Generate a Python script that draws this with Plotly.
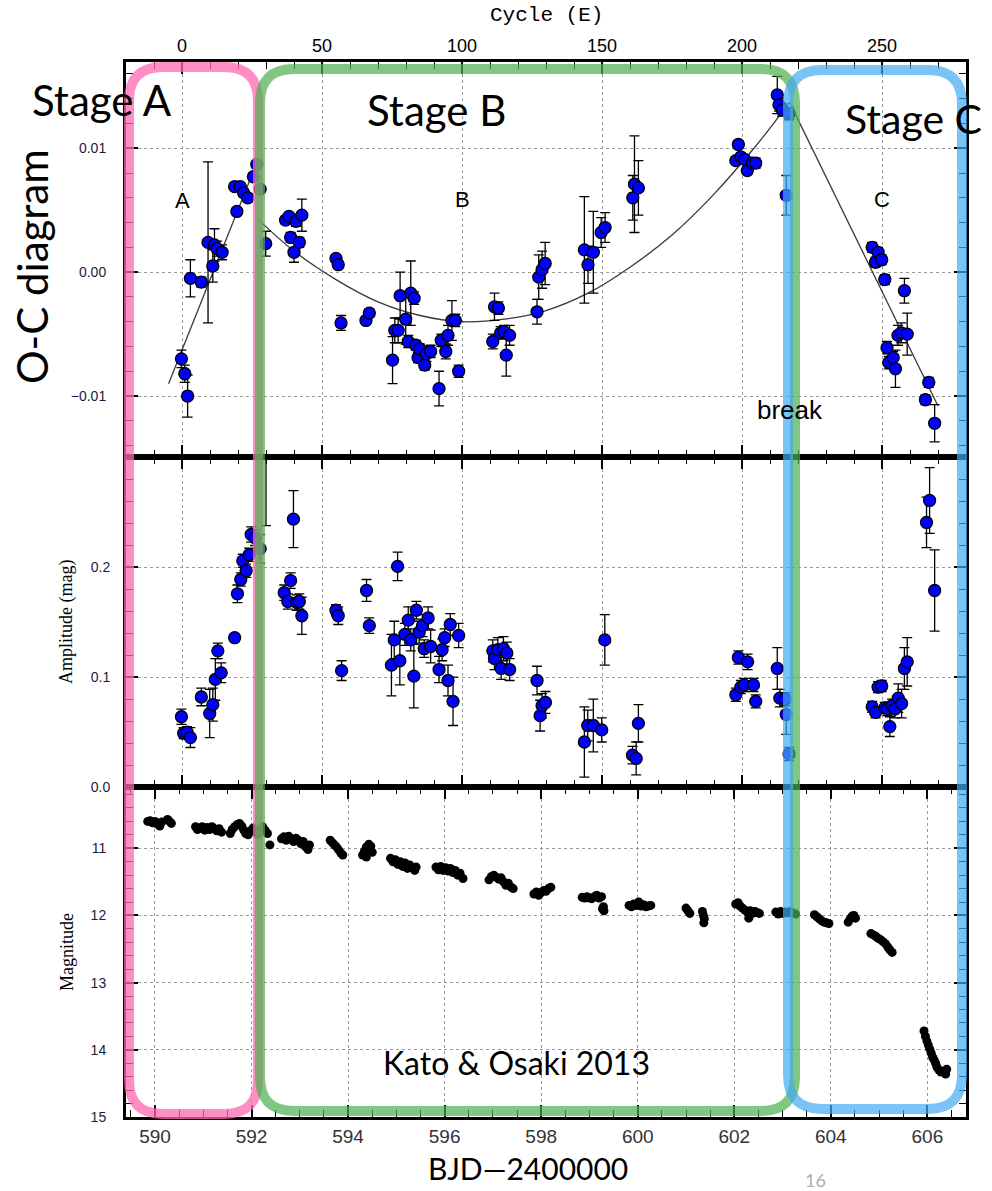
import plotly.graph_objects as go

# ---------------- data ----------------
oc_cycle = [-0.2, 1.0, 2.0, 3.0, 6.9, 9.3, 11.0, 11.6, 12.5, 14.3, 18.8, 19.6, 20.8, 22.0, 23.5, 25.5, 26.7, 27.9, 29.9,
            37.0, 38.2, 38.8, 40.0, 40.7, 41.9, 42.8, 55.0, 55.8, 56.8, 65.7, 66.9, 75.2, 76.0, 77.2, 77.9, 79.9, 80.8,
            81.7, 82.9, 83.5, 84.3, 84.9, 86.7, 87.3, 88.8, 91.8, 92.6, 94.2, 95.0, 96.4, 97.6, 98.8, 111.0, 111.6,
            113.0, 113.8, 115.0, 115.8, 117.0, 126.8, 127.4, 128.6, 129.7, 143.7, 145.0, 146.9, 149.7, 151.1, 161.0,
            161.6, 163.0, 197.8, 198.7, 199.6, 201.0, 201.9, 203.7, 204.9, 212.6, 213.2, 214.4, 215.8, 216.8,
            246.5, 247.7, 248.6, 249.9, 251.0, 251.8, 252.4, 254.0, 254.8, 255.7, 256.9, 258.0, 259.0, 265.5, 266.7, 268.8]
oc_value = [-0.0070, -0.0082, -0.0100, -0.0005, -0.0008, 0.0024, 0.0005, 0.0022, 0.0019, 0.0016, 0.0069, 0.0049, 0.0069,
            0.0064, 0.0060, 0.0077, 0.0087, 0.0067, 0.0023,
            0.0042, 0.0045, 0.0028, 0.0016, 0.0041, 0.0024, 0.0046, 0.0011, 0.0006, -0.0041, -0.0039, -0.0033, -0.0071,
            -0.0047, -0.0047, -0.0019, -0.0038, -0.0056, -0.0017, -0.0021, -0.0059, -0.0069, -0.0062, -0.0075, -0.0066,
            -0.0064, -0.0094, -0.0055, -0.0064, -0.0051, -0.0039, -0.0039, -0.0080, -0.0056, -0.0028, -0.0029, -0.0049,
            -0.0048, -0.0067, -0.0051, -0.0032, -0.0004, 0.0002, 0.0007, 0.0018, 0.0006, 0.0016, 0.0032, 0.0036, 0.0060,
            0.0071, 0.0068, 0.0090, 0.0103, 0.0093, 0.0091, 0.0082, 0.0088, 0.0088, 0.0143, 0.0135, 0.0131, 0.0062,
            0.0128,
            0.0020, 0.0008, 0.0016, 0.0010, -0.0006, -0.0061, -0.0073, -0.0069, -0.0078, -0.0051, -0.0049, -0.0015,
            -0.0050, -0.0103, -0.0089, -0.0122]
oc_error = [0.0007, 0.0007, 0.0017, 0.0015, 0.0004, 0.0065, 0.0013, 0.0013, 0.0006, 0.0006, 0.0003, 0.0003, 0.0003,
            0.0003, 0.0003, 0.0003, 0.0003, 0.0003, 0.0010,
            0.0003, 0.0003, 0.0004, 0.0008, 0.0004, 0.0004, 0.0013, 0.0003, 0.0003, 0.0006, 0.0003, 0.0003, 0.0019,
            0.0010, 0.0010, 0.0019, 0.0020, 0.0005, 0.0026, 0.0005, 0.0004, 0.0004, 0.0004, 0.0004, 0.0006, 0.0005,
            0.0014, 0.0005, 0.0006, 0.0008, 0.0016, 0.0005, 0.0005, 0.0006, 0.0011, 0.0005, 0.0005, 0.0005, 0.0017,
            0.0008, 0.0010, 0.0018, 0.0015, 0.0017, 0.0043, 0.0015, 0.0033, 0.0012, 0.0012, 0.0018, 0.0039, 0.0022,
            0.0003, 0.0003, 0.0003, 0.0003, 0.0003, 0.0004, 0.0004, 0.0015, 0.0005, 0.0005, 0.0016, 0.0005,
            0.0004, 0.0004, 0.0004, 0.0004, 0.0004, 0.0005, 0.0005, 0.0005, 0.0015, 0.0008, 0.0008, 0.0010, 0.0017,
            0.0004, 0.0004, 0.0015]

fitA_cycle = [-4.8, 27.0]
fitA_oc = [-0.0090, 0.0090]
fitB_cycle = [27.0, 40.0, 55.0, 70.0, 85.0, 100.0, 115.0, 130.0, 145.0, 160.0, 175.0, 190.0, 205.0, 217.0]
fitB_oc = [0.0043, 0.0017, -0.0006, -0.0024, -0.0035, -0.0040, -0.0038, -0.0031, -0.0017, 0.0004, 0.0030, 0.0063,
           0.0102, 0.0137]
fitC_cycle = [217.0, 270.0]
fitC_oc = [0.0137, -0.0108]

amp_cycle = [-0.2, 0.6, 1.8, 3.0, 6.9, 9.9, 11.0, 11.9, 12.8, 14.0, 18.8, 19.8, 21.0, 21.7, 22.9, 24.0, 24.7, 26.1,
             27.9, 30.0, 36.5, 37.8, 38.8, 39.8, 41.0, 41.9, 42.8, 55.0, 55.8, 57.0, 65.9, 66.9, 74.8, 75.8, 77.0,
             77.8, 79.6, 80.8, 81.7, 82.8, 83.7, 84.7, 85.9, 86.5, 87.9, 88.8, 91.8, 92.9, 93.8, 95.0, 95.8, 96.8,
             98.8, 111.0, 111.6, 112.8, 114.0, 114.8, 116.0, 117.0, 126.8, 127.9, 128.6, 129.8, 143.7, 144.9, 146.9,
             149.9, 151.0, 160.9, 162.2, 163.0, 197.8, 198.7, 199.6, 200.8, 202.0, 204.1, 204.9, 212.6, 213.5, 215.4,
             215.8, 216.8, 246.5, 247.7, 248.6, 249.9, 251.0, 251.9, 252.8, 253.6, 254.6, 255.8, 257.0, 258.0, 259.0,
             265.9, 267.0, 268.8]
amp_value = [0.064, 0.049, 0.050, 0.045, 0.082, 0.067, 0.075, 0.098, 0.124, 0.104, 0.136, 0.176, 0.189, 0.206, 0.197,
             0.2115, 0.230, 0.227, 0.217, 0.330, 0.177, 0.169, 0.188, 0.244, 0.168, 0.169, 0.156, 0.161, 0.156, 0.106,
             0.179, 0.147, 0.111, 0.134, 0.201, 0.115, 0.139, 0.152, 0.134, 0.101, 0.161, 0.141, 0.147, 0.126, 0.154,
             0.128, 0.107, 0.125, 0.136, 0.097, 0.148, 0.078, 0.138, 0.124, 0.117, 0.125, 0.108, 0.126, 0.122, 0.107,
             0.097, 0.065, 0.074, 0.077, 0.041, 0.056, 0.056, 0.052, 0.134, 0.029, 0.026, 0.058, 0.084, 0.118, 0.091,
             0.093, 0.114, 0.093, 0.078, 0.108, 0.081, 0.080, 0.066, 0.030, 0.073, 0.068, 0.091, 0.092, 0.072, 0.071,
             0.055, 0.074, 0.071, 0.081, 0.076, 0.108, 0.114, 0.241, 0.261, 0.179]
amp_error = [0.007, 0.005, 0.005, 0.009, 0.008, 0.022, 0.015, 0.019, 0.007, 0.009, 0.003, 0.008, 0.006, 0.006, 0.006,
             0.006, 0.007, 0.007, 0.013, 0.092, 0.007, 0.007, 0.007, 0.026, 0.007, 0.007, 0.017, 0.005, 0.008, 0.009,
             0.010, 0.007, 0.028, 0.017, 0.013, 0.022, 0.010, 0.012, 0.010, 0.029, 0.008, 0.010, 0.010, 0.008, 0.010,
             0.015, 0.012, 0.010, 0.008, 0.014, 0.010, 0.022, 0.011, 0.010, 0.010, 0.011, 0.010, 0.011, 0.010, 0.010,
             0.013, 0.014, 0.011, 0.010, 0.032, 0.014, 0.024, 0.011, 0.023, 0.008, 0.015, 0.017, 0.006, 0.006, 0.006,
             0.006, 0.007, 0.006, 0.006, 0.019, 0.008, 0.006, 0.018, 0.006, 0.005, 0.005, 0.005, 0.005, 0.005, 0.006,
             0.009, 0.006, 0.008, 0.013, 0.013, 0.019, 0.022, 0.023, 0.030, 0.037]

lc_bjd = [589.85, 589.90, 589.95, 590.00, 590.05, 590.10, 590.14, 590.26, 590.30, 590.34,
          590.84, 590.88, 590.93, 590.98, 591.03, 591.08, 591.13, 591.18, 591.23, 591.28, 591.33, 591.38,
          591.56, 591.60, 591.65, 591.70, 591.75, 591.80, 591.84, 591.88, 591.93, 591.98, 592.03, 592.08, 592.13,
          592.18, 592.23, 592.28, 592.33, 592.38,
          592.62, 592.67, 592.72, 592.77, 592.82, 592.87, 592.92, 592.97, 593.02, 593.07, 593.12, 593.17, 593.20,
          593.63, 593.68, 593.72, 593.76, 593.80, 593.85, 593.89,
          594.30, 594.34, 594.38, 594.43, 594.47, 594.50, 594.38,
          594.88, 594.93, 594.98, 595.03, 595.08, 595.13, 595.18, 595.23, 595.28, 595.33, 595.38, 595.41,
          595.82, 595.87, 595.92, 595.97, 596.02, 596.07, 596.12, 596.17, 596.22, 596.27, 596.32, 596.38,
          596.92, 596.97, 597.02, 597.07, 597.12, 597.17, 597.22, 597.27, 597.32, 597.38, 597.42,
          597.85, 597.90, 597.95, 598.00, 598.05, 598.10, 598.15, 598.20,
          598.85, 598.90, 598.95, 599.00, 599.05, 599.10, 599.15, 599.20, 599.25, 599.29, 599.30, 599.27,
          599.82, 599.87, 599.92, 599.97, 600.02, 600.07, 600.12, 600.17, 600.22, 600.27,
          601.00, 601.04, 601.08, 601.34, 601.36, 601.38, 601.37,
          602.03, 602.08, 602.12, 602.17, 602.22, 602.27, 602.30, 602.33, 602.38, 602.43, 602.48, 602.52,
          602.86, 602.91, 602.96, 603.01, 603.06, 603.11, 603.16, 603.21, 603.27,
          603.66, 603.71, 603.76, 603.81, 603.86, 603.91, 603.96,
          604.36, 604.40, 604.44, 604.48, 604.51,
          604.83, 604.88, 604.93, 604.98, 605.03, 605.08, 605.13, 605.18, 605.22, 605.27,
          605.93, 605.96, 605.99, 606.02, 606.05, 606.08, 606.11, 606.14, 606.17, 606.20, 606.24, 606.28, 606.33,
          606.38, 606.40]
lc_mag = [10.60, 10.59, 10.62, 10.60, 10.64, 10.67, 10.61, 10.57, 10.60, 10.63,
          10.68, 10.72, 10.70, 10.68, 10.73, 10.69, 10.72, 10.68, 10.71, 10.74, 10.71, 10.76,
          10.78, 10.72, 10.68, 10.65, 10.63, 10.67, 10.73, 10.78, 10.80, 10.74, 10.70, 10.76, 10.80,
          10.72, 10.68, 10.73, 10.78, 10.95,
          10.86, 10.83, 10.88, 10.82, 10.86, 10.90, 10.85, 10.88, 10.93, 10.90, 10.98, 11.02, 10.95,
          10.88, 10.92, 10.95, 10.98, 11.02, 11.07, 11.10,
          11.10, 11.04, 10.98, 10.94, 10.97, 11.06, 11.13,
          11.15, 11.20, 11.17, 11.24, 11.20, 11.27, 11.22, 11.30, 11.25, 11.29, 11.33, 11.28,
          11.28, 11.32, 11.27, 11.33, 11.29, 11.34, 11.30, 11.36, 11.33, 11.40, 11.37, 11.45,
          11.47, 11.42, 11.40, 11.43, 11.46, 11.44, 11.50, 11.55, 11.52, 11.58, 11.60,
          11.68, 11.65, 11.70, 11.66, 11.63, 11.64, 11.60, 11.58,
          11.73, 11.74, 11.72, 11.74, 11.75, 11.72, 11.70, 11.74, 11.72, 11.87, 11.93, 11.90,
          11.85, 11.87, 11.83, 11.85, 11.80, 11.86, 11.84, 11.87, 11.86, 11.85,
          11.89, 11.93, 11.97, 11.94, 12.00, 12.05, 12.11,
          11.83, 11.81, 11.86, 11.89, 11.92, 11.95, 12.04, 11.93, 11.97, 11.94, 11.96, 11.97,
          11.95, 11.98, 11.94, 11.97, 11.95, 11.96, 11.94, 11.97, 11.98,
          11.99, 12.02, 12.05, 12.08, 12.10, 12.11, 12.12,
          12.10, 12.05, 12.01, 12.00, 12.04,
          12.27, 12.29, 12.31, 12.34, 12.36, 12.39, 12.42, 12.47, 12.51, 12.55,
          13.72, 13.80, 13.87, 13.93, 13.99, 14.05, 14.11, 14.15, 14.20, 14.26, 14.30, 14.33, 14.32, 14.36, 14.29]

cycle_ticks = [0, 50, 100, 150, 200, 250]
bjd_ticks = [590, 592, 594, 596, 598, 600, 602, 604, 606]
oc_ticks = [-0.01, 0.0, 0.01]
amp_ticks = [0.0, 0.1, 0.2]
mag_ticks = [11, 12, 13, 14, 15]

# ---------------- layout helpers (pixel -> paper) ----------------
W, H = 992, 1191
L, R, T, B = 126, 966, 62, 1117


def px(x):
    return (x - L) / (R - L)


def py(y):
    return (B - y) / (B - T)


def rrect(x0, y0, x1, y1, r):
    pts = [
        ("M", [(x0 + r, y0)]), ("L", [(x1 - r, y0)]), ("Q", [(x1, y0), (x1, y0 + r)]),
        ("L", [(x1, y1 - r)]), ("Q", [(x1, y1), (x1 - r, y1)]), ("L", [(x0 + r, y1)]),
        ("Q", [(x0, y1), (x0, y1 - r)]), ("L", [(x0, y0 + r)]), ("Q", [(x0, y0), (x0 + r, y0)]),
    ]
    s = ""
    for cmd, ps in pts:
        s += cmd + " " + " ".join(f"{px(a):.5f},{py(b):.5f}" for a, b in ps) + " "
    return s + "Z"


fig = go.Figure()

line_style = dict(color="#3a3a3a", width=1.3)
fig.add_trace(go.Scatter(x=fitA_cycle, y=fitA_oc, mode="lines", line=line_style, xaxis="x2", yaxis="y"))
fig.add_trace(go.Scatter(x=fitB_cycle, y=fitB_oc, mode="lines", line=dict(line_style, shape="spline"),
                         xaxis="x2", yaxis="y"))
fig.add_trace(go.Scatter(x=fitC_cycle, y=fitC_oc, mode="lines", line=line_style, xaxis="x2", yaxis="y"))

mk = dict(size=12, color="#0000ff", line=dict(color="black", width=1.3))
eb = dict(color="black", thickness=1.3, width=5)
fig.add_trace(go.Scatter(x=oc_cycle, y=oc_value, mode="markers", marker=mk,
                         error_y=dict(type="data", array=oc_error, **eb), xaxis="x2", yaxis="y"))
fig.add_trace(go.Scatter(x=amp_cycle, y=amp_value, mode="markers", marker=mk,
                         error_y=dict(type="data", array=amp_error, **eb), xaxis="x3", yaxis="y2"))
fig.add_trace(go.Scatter(x=lc_bjd, y=lc_mag, mode="markers",
                         marker=dict(size=9, color="black"), xaxis="x", yaxis="y3"))

axis_common = dict(showline=True, linecolor="black", linewidth=3, mirror="ticks", ticks="inside",
                   ticklen=12, tickwidth=1.5, tickcolor="black", showgrid=True, gridcolor="#9a9a9a",
                   griddash="dot", gridwidth=1, zeroline=False)

tick_font_left = dict(family="Liberation Sans", size=14, color="#1c1c3c")

d1 = [py(457), 1.0]
d2 = [py(787), py(457)]
d3 = [0.0, py(787)]

fig.update_layout(
    width=W, height=H,
    margin=dict(l=L, r=W - R, t=T, b=H - B),
    paper_bgcolor="white", plot_bgcolor="white",
    showlegend=False,
    font=dict(family="Liberation Sans", color="black"),
    xaxis=dict(axis_common, domain=[0, 1], anchor="y3", side="bottom", range=[589.4, 606.8],
               tickvals=bjd_ticks, ticktext=[str(v) for v in bjd_ticks],
               tickfont=dict(family="Liberation Sans", size=19, color="#333333"),
               minor=dict(dtick=0.5, tick0=590, ticks="inside", ticklen=7, tickwidth=1, tickcolor="black",
                          showgrid=False)),
    xaxis2=dict(axis_common, domain=[0, 1], anchor="y", side="top", range=[-20, 280],
                tickvals=cycle_ticks, ticktext=[str(v) for v in cycle_ticks],
                tickfont=dict(family="Liberation Sans", size=18, color="black"),
                minor=dict(dtick=10, tick0=0, ticks="inside", ticklen=7, tickwidth=1, tickcolor="black",
                           showgrid=False)),
    xaxis3=dict(axis_common, domain=[0, 1], anchor="y2", side="bottom", range=[-20, 280], matches="x2",
                tickvals=cycle_ticks, showticklabels=False,
                minor=dict(dtick=10, tick0=0, ticks="inside", ticklen=7, tickwidth=1, tickcolor="black",
                           showgrid=False)),
    yaxis=dict(axis_common, domain=d1, anchor="x2", range=[-0.01492, 0.01696],
               tickvals=oc_ticks, ticktext=["\u22120.01", "0.00", "0.01"], tickfont=tick_font_left,
               ticklabelstandoff=14,
               minor=dict(dtick=0.002, tick0=0, ticks="inside", ticklen=7, tickwidth=1, tickcolor="black",
                          showgrid=False)),
    yaxis2=dict(axis_common, domain=d2, anchor="x3", range=[0, 0.3006],
                tickvals=amp_ticks, ticktext=["0.0", "0.1", "0.2"], tickfont=tick_font_left,
                ticklabelstandoff=10,
                minor=dict(dtick=0.02, tick0=0, ticks="inside", ticklen=7, tickwidth=1, tickcolor="black",
                           showgrid=False)),
    yaxis3=dict(axis_common, domain=d3, anchor="x", range=[15, 10.088],
                tickvals=mag_ticks, ticktext=[str(v) for v in mag_ticks], tickfont=tick_font_left,
                ticklabelstandoff=14,
                minor=dict(dtick=0.2, tick0=10, ticks="inside", ticklen=7, tickwidth=1, tickcolor="black",
                           showgrid=False)),
)

# ---------------- stage boxes ----------------
boxes = [
    (129, 67, 258, 1114, "rgb(255,105,180)", 0.75),
    (260, 69, 795, 1111, "rgb(76,175,80)", 0.70),
    (788, 70, 962, 1109, "rgb(66,170,245)", 0.70),
]
for x0, y0, x1, y1, col, op in boxes:
    fig.add_shape(type="path", path=rrect(x0, y0, x1, y1, 34), xref="paper", yref="paper",
                  line=dict(color=col, width=10), fillcolor="rgba(0,0,0,0)", opacity=op, layer="above")

# ---------------- texts ----------------
def ann(text, x, y, size, family, color="black", angle=0, xanchor="center", yanchor="middle"):
    fig.add_annotation(text=text, x=px(x), y=py(y), xref="paper", yref="paper", showarrow=False,
                       font=dict(size=size, family=family, color=color), textangle=angle,
                       xanchor=xanchor, yanchor=yanchor)


ann("Cycle (E)", 546, 16, 21, "Liberation Mono")
ann("Stage A", 30, 100, 42, "Lato", xanchor="left")
ann("Stage B", 365, 110, 42, "Lato", xanchor="left")
ann("Stage C", 843, 118, 41, "Lato", xanchor="left")
ann("O-C diagram", 32, 267, 42, "Lato", angle=-90)
ann("A", 182, 200, 22, "Liberation Sans")
ann("B", 462, 199, 22, "Liberation Sans")
ann("C", 882, 199, 22, "Liberation Sans")
ann("break", 790, 410, 26, "Liberation Sans")
ann("Amplitude (mag)", 67, 622, 18, "Liberation Serif", angle=-90)
ann("Magnitude", 67, 952, 18, "Liberation Serif", angle=-90)
ann("Kato &amp; Osaki 2013", 516, 1062, 32, "Lato")
ann("BJD\u20142400000", 528, 1168, 30, "Lato")
ann("16", 815, 1180, 18, "Lato", color="#b0b0b0")

fig.write_html("out.html")
